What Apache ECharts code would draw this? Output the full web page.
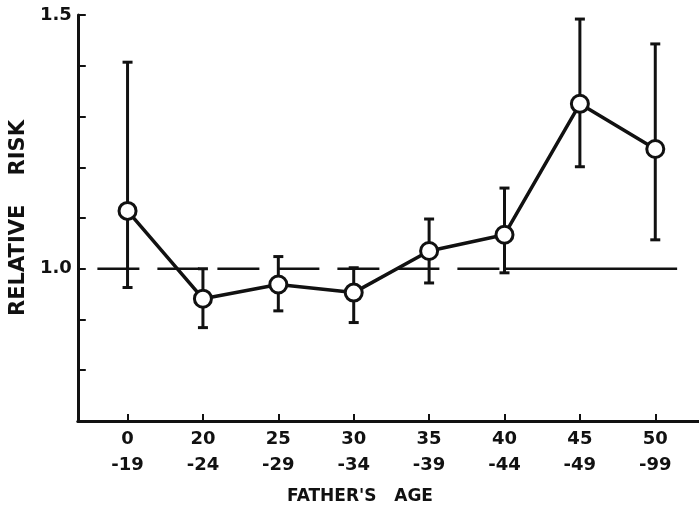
<!DOCTYPE html>
<html>
<head>
<meta charset="utf-8">
<script src="https://cdn.jsdelivr.net/npm/echarts@6/dist/echarts.min.js"></script>
<style>
  html, body { margin: 0; padding: 0; background: #fff; }
  #chart { width: 699px; height: 507px; }
</style>
</head>
<body>
<div id="chart"></div>
<script>
// age groups (two-line tick labels)
const ageStart = ['0', '20', '25', '30', '35', '40', '45', '50'];
const ageEnd = ['-19', '-24', '-29', '-34', '-39', '-44', '-49', '-99'];

// relative risk and its confidence limits
const risk = [1.114, 0.941, 0.969, 0.953, 1.035, 1.067, 1.325, 1.236];
const lower = [0.963, 0.884, 0.917, 0.894, 0.972, 0.992, 1.201, 1.057];
const upper = [1.407, 1.000, 1.024, 1.002, 1.098, 1.159, 1.492, 1.443];

// reference line at RR = 1.0 (dashed part, then solid part), in x index units
const refLevel = 1.0;
const refDashed = [-0.40, 5.02];
const refSolid = [5.02, 7.29];

const font = 'DejaVu Sans';
const chart = echarts.init(document.getElementById('chart'));

const option = {
  animation: false,
  backgroundColor: '#fff',
  title: {
    text: "FATHER'S   AGE",
    left: 355,
    top: 483,
    textAlign: 'center',
    textStyle: { fontFamily: font, fontWeight: 'bold', fontSize: 17, color: '#111' }
  },
  grid: { left: 75, right: 0, top: 15, bottom: 86 },
  xAxis: {
    type: 'value',
    min: -0.66,
    max: 7.58,
    splitLine: { show: false },
    axisLine: { onZero: false, lineStyle: { color: '#111', width: 3 } },
    axisTick: {
      inside: true,
      length: 7,
      customValues: ageStart.map((_, i) => i),
      lineStyle: { color: '#111', width: 2 }
    },
    axisLabel: {
      customValues: ageStart.map((_, i) => i),
      formatter: (v) => ageStart[v] + '\n' + ageEnd[v],
      fontFamily: font,
      fontWeight: 'bold',
      fontSize: 18,
      lineHeight: 26,
      color: '#111',
      margin: 5
    }
  },
  yAxis: {
    type: 'value',
    min: 0.7,
    max: 1.5,
    interval: 0.1,
    name: 'RELATIVE    RISK',
    nameLocation: 'middle',
    nameGap: 41,
    nameTextStyle: { fontFamily: font, fontWeight: 'bold', fontSize: 21, color: '#111' },
    splitLine: { show: false },
    axisLine: { onZero: false, lineStyle: { color: '#111', width: 3 } },
    axisTick: { inside: true, length: 8, lineStyle: { color: '#111', width: 2 } },
    axisLabel: {
      formatter: (v) => (Math.abs(v - 1) < 1e-6 ? '1.0' : Math.abs(v - 1.5) < 1e-6 ? '1.5' : ''),
      fontFamily: font,
      fontWeight: 'bold',
      fontSize: 18,
      color: '#111',
      margin: 6
    }
  },
  series: [
    {
      type: 'line',
      data: refDashed.map((x) => [x, refLevel]),
      symbol: 'none',
      lineStyle: { color: '#111', width: 2.5, type: [42, 18] },
      z: 1
    },
    {
      type: 'line',
      data: refSolid.map((x) => [x, refLevel]),
      symbol: 'none',
      lineStyle: { color: '#111', width: 2.5 },
      z: 1
    },
    {
      type: 'custom',
      data: risk.map((_, i) => [i, lower[i], upper[i]]),
      renderItem: (params, api) => {
        const lo = api.coord([api.value(0), api.value(1)]);
        const hi = api.coord([api.value(0), api.value(2)]);
        const cap = 5;
        const style = { stroke: '#111', lineWidth: 3 };
        return {
          type: 'group',
          children: [
            { type: 'line', shape: { x1: lo[0], y1: lo[1], x2: hi[0], y2: hi[1] }, style },
            { type: 'line', shape: { x1: lo[0] - cap, y1: lo[1], x2: lo[0] + cap, y2: lo[1] }, style },
            { type: 'line', shape: { x1: hi[0] - cap, y1: hi[1], x2: hi[0] + cap, y2: hi[1] }, style }
          ]
        };
      },
      z: 2
    },
    {
      type: 'line',
      data: risk.map((v, i) => [i, v]),
      symbol: 'circle',
      symbolSize: 17,
      itemStyle: { color: '#fff', borderColor: '#111', borderWidth: 3 },
      lineStyle: { color: '#111', width: 3.5 },
      z: 3
    }
  ]
};

chart.setOption(option);
</script>
</body>
</html>
